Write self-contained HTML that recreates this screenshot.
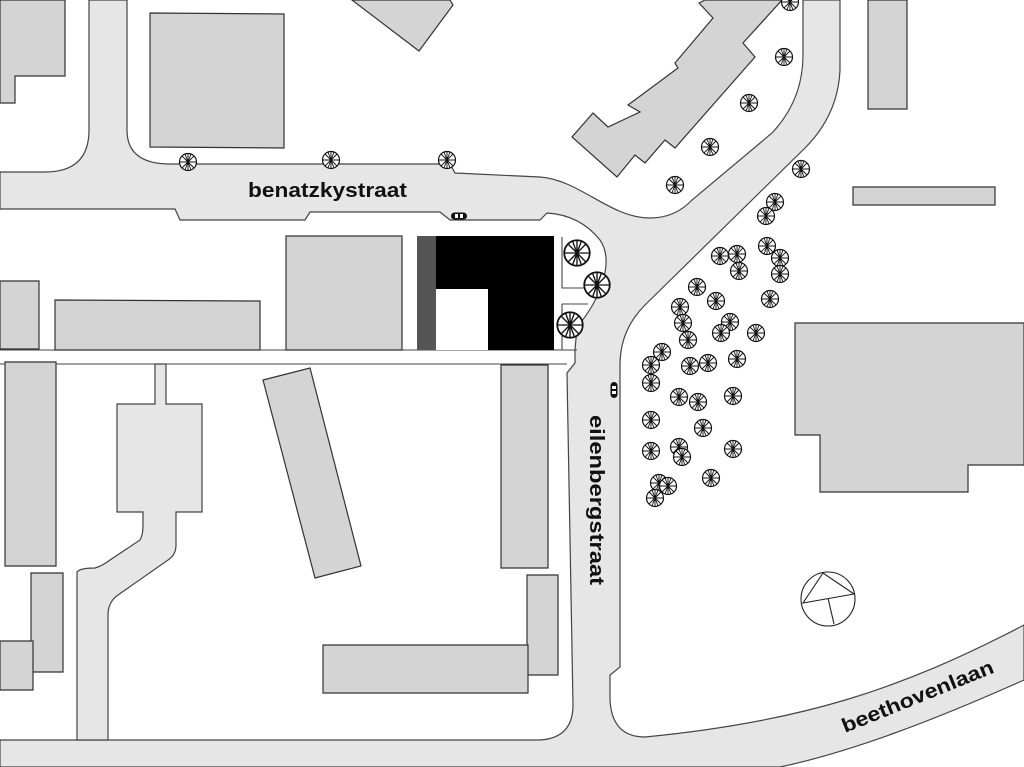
<!DOCTYPE html>
<html><head><meta charset="utf-8"><style>html,body{margin:0;padding:0;background:#fff}svg{display:block}</style></head><body>
<svg width="1024" height="767" viewBox="0 0 1024 767" xmlns="http://www.w3.org/2000/svg">
<defs>
<g id="tr"><circle r="8.5" fill="#fff" stroke="#111" stroke-width="1.2"/><path d="M0-8.5V8.5M-8.5 0H8.5M-6-6L6 6M6-6L-6 6M-3-8L3 8M3-8L-3 8" stroke="#111" stroke-width="0.9"/></g>
<g id="car"><rect x="-8" y="-3.5" width="16" height="7" rx="3.5" fill="#111"/><rect x="-4" y="-2" width="3" height="4" fill="#fff"/><rect x="1" y="-2" width="3" height="4" fill="#fff"/></g>
</defs>
<rect width="1024" height="767" fill="#fff"/>
<g fill="#e6e6e6" stroke="#444" stroke-width="1.2">
<!-- main road network -->
<path d="M0 172 L45 172 Q89 172 89 130 L89 0 L127 0 L127 130 Q127 164 170 164 L450 164 L455 173 L540 177 C580 180 610 218 650 218 Q675 218 692 200 L772 133 Q803 100 803 55 L803 0 L840 0 L840 70 Q838 115 805 148 L645 305 Q620 330 620 365 L620 667 L610 675 L610 700 Q612 737 645 737 C800 722 900 690 1024 625 L1024 680 C930 722 850 752 780 767 L0 767 L0 740 L540 740 Q573 738 573 705 L567 373 L575 363 L575 350 L577 327 C600 300 615 262 600 240 Q580 215 547 213 L540 220 L450 220 L440 212 L310 212 L305 220 L180 220 L175 209 L0 209 Z"/>
<!-- bottom-left paved path -->
<path d="M155 364 L166 364 L166 404 L202 404 L202 512 L176 512 L176 545 Q176 555 168 560 L118 595 Q108 602 108 615 L108 740 L77 740 L77 572 Q80 568 95 568 Q102 566 110 560 L140 540 Q143 535 143 525 L143 512 L117 512 L117 404 L155 404 Z"/>
</g>
<!-- lot lines -->
<g fill="none" stroke="#444" stroke-width="1.1">
<path d="M0 350 L577 350 M0 364 L155 364 M166 364 L567 364"/>
<path d="M548 365 L548 568" stroke-dasharray="6 3"/>
<path d="M562 237 L562 288 L600 288 M562 304 L588 304 M562 304 L562 350"/>
</g>
<!-- buildings -->
<g fill="#d4d4d4" stroke="#333" stroke-width="1.2">
<path d="M0 0 L65 0 L65 76 L15 76 L15 103 L0 103 Z"/>
<path d="M150 13 L284 14 L284 148 L150 147 Z"/>
<path d="M352 0 L450 0 L453 5 L419 51 Z"/>
<path d="M0 281 L39 281 L39 349 L0 349 Z"/>
<path d="M55 300 L260 301 L260 350 L55 350 Z"/>
<path d="M286 236 L402 236 L402 350 L286 350 Z"/>
<path d="M5 362 L56 362 L56 566 L5 566 Z"/>
<path d="M31 573 L63 573 L63 672 L31 672 Z"/>
<path d="M0 641 L33 641 L33 690 L0 690 Z"/>
<path d="M263 380 L310 368 L361 566 L315 578 Z"/>
<path d="M501 365 L548 365 L548 568 L501 568 Z"/>
<path d="M527 575 L558 575 L558 675 L527 675 Z"/>
<path d="M323 645 L528 645 L528 693 L323 693 Z"/>
<path d="M868 0 L907 0 L907 109 L868 109 Z"/>
<path d="M853 187 L995 187 L995 205 L853 205 Z"/>
<path d="M795 323 L1024 323 L1024 465 L968 465 L968 492 L820 492 L820 435 L795 435 Z"/>
<path d="M699 3 L713 18 L675 63 L678 68 L628 105 L640 112 L608 127 L593 113 L572 137 L617 177 L635 155 L645 163 L665 140 L675 148 L755 57 L743 43 L782 0 L705 0 Z"/>
</g>
<!-- site -->
<rect x="417" y="236" width="19" height="114" fill="#555"/>
<rect x="436" y="236" width="118" height="114" fill="#000"/>
<rect x="436" y="289" width="52" height="61" fill="#fff"/>
<!-- plaza trees -->
<g transform="translate(577,253) scale(1.5)"><use href="#tr"/></g>
<g transform="translate(597,285) scale(1.5)"><use href="#tr"/></g>
<g transform="translate(570,325) scale(1.5)"><use href="#tr"/></g>
<!-- trees -->
<g>
<use href="#tr" x="188" y="162"/><use href="#tr" x="331" y="160"/><use href="#tr" x="447" y="160"/>
<use href="#tr" x="790" y="2"/><use href="#tr" x="784" y="57"/><use href="#tr" x="749" y="103"/><use href="#tr" x="710" y="147"/><use href="#tr" x="675" y="185"/><use href="#tr" x="801" y="169"/>
<use href="#tr" x="775" y="202"/><use href="#tr" x="766" y="216"/><use href="#tr" x="720" y="256"/><use href="#tr" x="737" y="254"/><use href="#tr" x="767" y="246"/><use href="#tr" x="780" y="258"/><use href="#tr" x="780" y="274"/><use href="#tr" x="739" y="271"/><use href="#tr" x="697" y="287"/><use href="#tr" x="680" y="307"/><use href="#tr" x="716" y="301"/><use href="#tr" x="770" y="299"/><use href="#tr" x="683" y="323"/><use href="#tr" x="730" y="322"/><use href="#tr" x="721" y="333"/><use href="#tr" x="688" y="340"/><use href="#tr" x="756" y="333"/><use href="#tr" x="662" y="352"/><use href="#tr" x="651" y="365"/><use href="#tr" x="651" y="383"/><use href="#tr" x="690" y="366"/><use href="#tr" x="708" y="363"/><use href="#tr" x="737" y="359"/><use href="#tr" x="679" y="397"/><use href="#tr" x="698" y="402"/><use href="#tr" x="733" y="396"/><use href="#tr" x="651" y="420"/><use href="#tr" x="703" y="428"/><use href="#tr" x="651" y="451"/><use href="#tr" x="679" y="447"/><use href="#tr" x="682" y="457"/><use href="#tr" x="733" y="449"/><use href="#tr" x="711" y="478"/><use href="#tr" x="659" y="483"/><use href="#tr" x="668" y="486"/><use href="#tr" x="655" y="498"/>
</g>
<use href="#car" x="459" y="216"/>
<g transform="translate(614,390) rotate(90)"><use href="#car"/></g>
<!-- pavilion -->
<g fill="none" stroke="#222" stroke-width="1.1">
<circle cx="828" cy="599" r="27"/>
<path d="M823 573 L803 603 L854 594 Z M828 598 L834 624"/>
</g>
<!-- labels -->
<g font-family="Liberation Sans, Arial, sans-serif" font-weight="bold" font-size="20" fill="#111">
<text x="248" y="197" textLength="159" lengthAdjust="spacingAndGlyphs">benatzkystraat</text>
<text transform="translate(590,415) rotate(90)" textLength="170" lengthAdjust="spacingAndGlyphs">eilenbergstraat</text>
<text transform="translate(845,733) rotate(-22)" textLength="162" lengthAdjust="spacingAndGlyphs">beethovenlaan</text>
</g>
</svg>
</body></html>
